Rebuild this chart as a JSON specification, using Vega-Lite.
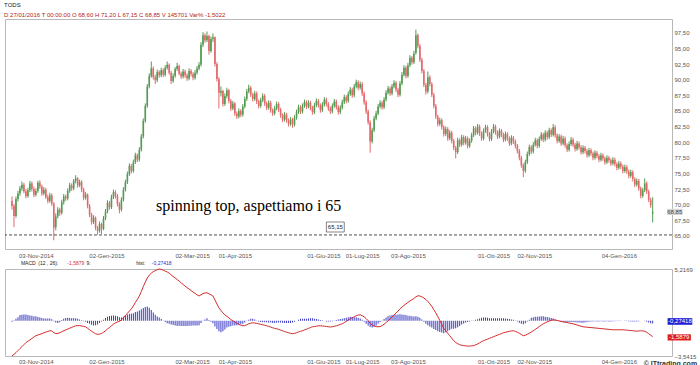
{
"$schema": "https://vega.github.io/schema/vega-lite/v6.json",
"background": "white",
"padding": {"left": 4, "top": 1, "right": 0, "bottom": 0},
"title": {"text": "TODS", "subtitle": "D 27/01/2016  T 00:00:00  O 68,60  H 71,20  L 67,15  C 68,85  V 145701  Var% -1,5022", "anchor": "start", "font": "Liberation Sans", "fontSize": 6, "fontWeight": "normal", "color": "#222", "subtitleFont": "Liberation Sans", "subtitleFontSize": 6, "subtitleColor": "#b22222", "subtitlePadding": 4, "offset": 1},
"bounds": "flush",
"spacing": 20,
"config": {"view": {"stroke": "#b8b8b8", "strokeWidth": 1}, "axis": {"labelFont": "Liberation Sans", "labelFontSize": 6, "labelColor": "#555", "ticks": false, "tickSize": 0, "domain": false, "grid": false, "title": null, "labelOverlap": false, "tickCount": 30}},
"datasets": {"px": [
{"i":0,"o":70.6,"h":71.3,"l":69.2,"c":69.8,"m":-3.54,"g":-0.1},
{"i":1,"o":69.8,"h":70.1,"l":66.4,"c":68.2,"m":-3.38,"g":0.05},
{"i":2,"o":68.2,"h":71.3,"l":67.9,"c":70.9,"m":-3.2,"g":0.2},
{"i":3,"o":70.9,"h":72.2,"l":70.5,"c":71.8,"m":-3.0,"g":0.35},
{"i":4,"o":71.8,"h":73.0,"l":71.4,"c":72.6,"m":-2.8,"g":0.59},
{"i":5,"o":72.6,"h":73.7,"l":72.2,"c":73.2,"m":-2.6,"g":0.62},
{"i":6,"o":73.2,"h":73.5,"l":71.8,"c":72.1,"m":-2.4,"g":0.64},
{"i":7,"o":72.1,"h":72.5,"l":71.0,"c":71.4,"m":-2.2,"g":0.64},
{"i":8,"o":71.4,"h":72.7,"l":71.1,"c":72.3,"m":-2.06,"g":0.59},
{"i":9,"o":72.3,"h":73.8,"l":72.0,"c":73.4,"m":-1.92,"g":0.54},
{"i":10,"o":73.4,"h":73.7,"l":72.1,"c":72.5,"m":-1.78,"g":0.5},
{"i":11,"o":72.5,"h":72.9,"l":71.2,"c":71.6,"m":-1.64,"g":0.45},
{"i":12,"o":71.6,"h":72.6,"l":71.3,"c":72.2,"m":-1.5,"g":0.45},
{"i":13,"o":72.2,"h":73.8,"l":71.9,"c":73.5,"m":-1.43,"g":0.39},
{"i":14,"o":73.5,"h":73.9,"l":72.5,"c":72.9,"m":-1.36,"g":0.34},
{"i":15,"o":72.9,"h":73.2,"l":71.4,"c":71.8,"m":-1.29,"g":0.28},
{"i":16,"o":71.8,"h":72.8,"l":71.5,"c":72.4,"m":-1.21,"g":0.23},
{"i":17,"o":72.4,"h":72.7,"l":70.9,"c":71.2,"m":-1.14,"g":0.23},
{"i":18,"o":71.2,"h":71.6,"l":70.2,"c":70.6,"m":-1.07,"g":0.23},
{"i":19,"o":70.6,"h":71.9,"l":70.3,"c":71.5,"m":-1.0,"g":0.23},
{"i":20,"o":71.5,"h":71.8,"l":69.8,"c":70.2,"m":-1.02,"g":0.15},
{"i":21,"o":70.2,"h":70.4,"l":64.3,"c":66.3,"m":-1.2,"g":-0.05},
{"i":22,"o":66.4,"h":68.6,"l":65.9,"c":68.1,"m":-1.28,"g":-0.17},
{"i":23,"o":68.1,"h":69.6,"l":67.8,"c":69.2,"m":-1.27,"g":-0.22},
{"i":24,"o":69.2,"h":69.5,"l":68.2,"c":68.7,"m":-1.2,"g":-0.14},
{"i":25,"o":68.7,"h":70.8,"l":68.4,"c":70.4,"m":-1.1,"g":0.08},
{"i":26,"o":70.4,"h":71.7,"l":70.0,"c":71.3,"m":-1.0,"g":0.22},
{"i":27,"o":71.3,"h":71.6,"l":70.6,"c":71.0,"m":-0.92,"g":0.28},
{"i":28,"o":71.0,"h":72.6,"l":70.7,"c":72.2,"m":-0.83,"g":0.3},
{"i":29,"o":72.2,"h":73.5,"l":71.9,"c":73.1,"m":-0.74,"g":0.29},
{"i":30,"o":73.1,"h":73.4,"l":72.2,"c":72.6,"m":-0.66,"g":0.27},
{"i":31,"o":72.6,"h":74.1,"l":72.3,"c":73.8,"m":-0.58,"g":0.27},
{"i":32,"o":73.8,"h":74.7,"l":73.4,"c":74.2,"m":-0.5,"g":0.26},
{"i":33,"o":74.2,"h":74.4,"l":72.7,"c":73.1,"m":-0.48,"g":0.21},
{"i":34,"o":73.1,"h":74.0,"l":72.8,"c":73.6,"m":-0.48,"g":0.14},
{"i":35,"o":73.6,"h":73.9,"l":72.0,"c":72.4,"m":-0.52,"g":0.05},
{"i":36,"o":72.4,"h":72.7,"l":70.7,"c":71.1,"m":-0.56,"g":-0.05},
{"i":37,"o":71.1,"h":72.0,"l":70.8,"c":71.6,"m":-0.6,"g":-0.1},
{"i":38,"o":71.6,"h":71.8,"l":69.4,"c":69.8,"m":-0.75,"g":-0.22},
{"i":39,"o":69.8,"h":70.1,"l":68.0,"c":68.4,"m":-0.9,"g":-0.3},
{"i":40,"o":68.4,"h":68.7,"l":66.8,"c":67.2,"m":-1.05,"g":-0.39},
{"i":41,"o":67.2,"h":68.3,"l":66.9,"c":67.9,"m":-1.18,"g":-0.46},
{"i":42,"o":67.9,"h":68.1,"l":65.9,"c":66.3,"m":-1.3,"g":-0.44},
{"i":43,"o":66.3,"h":66.6,"l":65.2,"c":65.8,"m":-1.36,"g":-0.37},
{"i":44,"o":65.8,"h":67.3,"l":65.5,"c":66.9,"m":-1.34,"g":-0.23},
{"i":45,"o":66.9,"h":67.1,"l":65.3,"c":66.1,"m":-1.28,"g":-0.08},
{"i":46,"o":66.1,"h":68.2,"l":65.9,"c":67.8,"m":-1.15,"g":0.12},
{"i":47,"o":67.8,"h":69.3,"l":67.5,"c":68.9,"m":-1.0,"g":0.29},
{"i":48,"o":68.9,"h":70.7,"l":68.6,"c":70.3,"m":-0.82,"g":0.42},
{"i":49,"o":70.3,"h":70.6,"l":69.2,"c":69.6,"m":-0.68,"g":0.48},
{"i":50,"o":69.6,"h":71.6,"l":69.3,"c":71.2,"m":-0.5,"g":0.52},
{"i":51,"o":71.2,"h":72.4,"l":70.9,"c":72.0,"m":-0.33,"g":0.54},
{"i":52,"o":72.0,"h":72.3,"l":71.0,"c":71.4,"m":-0.2,"g":0.5},
{"i":53,"o":71.4,"h":71.7,"l":69.7,"c":70.1,"m":-0.12,"g":0.45},
{"i":54,"o":70.1,"h":70.4,"l":68.6,"c":69.2,"m":-0.05,"g":0.36},
{"i":55,"o":69.2,"h":71.2,"l":68.9,"c":70.8,"m":0.1,"g":0.34},
{"i":56,"o":70.8,"h":72.8,"l":70.5,"c":72.4,"m":0.3,"g":0.4},
{"i":57,"o":72.4,"h":74.0,"l":72.1,"c":73.6,"m":0.55,"g":0.54},
{"i":58,"o":73.6,"h":75.3,"l":73.3,"c":74.9,"m":0.75,"g":0.64},
{"i":59,"o":74.9,"h":76.6,"l":74.6,"c":76.2,"m":0.98,"g":0.7},
{"i":60,"o":76.2,"h":76.5,"l":75.0,"c":75.4,"m":1.2,"g":0.72},
{"i":61,"o":75.4,"h":77.2,"l":75.1,"c":76.8,"m":1.5,"g":0.76},
{"i":62,"o":76.8,"h":78.3,"l":76.5,"c":77.9,"m":1.85,"g":0.88},
{"i":63,"o":77.9,"h":78.2,"l":76.8,"c":77.2,"m":2.15,"g":0.94},
{"i":64,"o":77.2,"h":79.2,"l":76.9,"c":78.8,"m":2.5,"g":1.04},
{"i":65,"o":78.8,"h":81.3,"l":78.5,"c":80.9,"m":2.95,"g":1.16},
{"i":66,"o":80.9,"h":83.8,"l":80.6,"c":83.4,"m":3.45,"g":1.28},
{"i":67,"o":83.4,"h":86.2,"l":83.1,"c":85.8,"m":3.9,"g":1.4},
{"i":68,"o":85.8,"h":89.3,"l":85.5,"c":88.9,"m":4.3,"g":1.44},
{"i":69,"o":88.9,"h":91.0,"l":88.6,"c":90.6,"m":4.6,"g":1.32},
{"i":70,"o":90.6,"h":92.9,"l":90.3,"c":91.8,"m":4.8,"g":1.08},
{"i":71,"o":91.8,"h":92.1,"l":90.0,"c":90.4,"m":4.95,"g":0.84},
{"i":72,"o":90.4,"h":90.8,"l":89.3,"c":89.9,"m":5.05,"g":0.6},
{"i":73,"o":89.9,"h":91.6,"l":89.6,"c":91.2,"m":5.15,"g":0.44},
{"i":74,"o":91.2,"h":91.5,"l":90.3,"c":90.7,"m":5.2169,"g":0.34},
{"i":75,"o":90.7,"h":91.9,"l":90.4,"c":91.5,"m":5.18,"g":0.18},
{"i":76,"o":91.5,"h":91.8,"l":90.4,"c":90.8,"m":5.1,"g":0.04},
{"i":77,"o":90.8,"h":92.3,"l":90.5,"c":91.9,"m":5.0,"g":-0.12},
{"i":78,"o":91.9,"h":92.9,"l":91.6,"c":92.4,"m":4.92,"g":-0.24},
{"i":79,"o":92.4,"h":92.6,"l":90.8,"c":91.1,"m":4.8,"g":-0.3},
{"i":80,"o":91.1,"h":91.4,"l":89.3,"c":89.8,"m":4.62,"g":-0.38},
{"i":81,"o":89.8,"h":91.0,"l":89.5,"c":90.6,"m":4.46,"g":-0.43},
{"i":82,"o":90.6,"h":92.0,"l":90.3,"c":91.7,"m":4.32,"g":-0.48},
{"i":83,"o":91.7,"h":92.7,"l":91.4,"c":92.2,"m":4.16,"g":-0.51},
{"i":84,"o":92.2,"h":92.4,"l":90.7,"c":91.0,"m":4.0,"g":-0.5},
{"i":85,"o":91.0,"h":91.3,"l":90.1,"c":90.5,"m":3.82,"g":-0.51},
{"i":86,"o":90.5,"h":91.7,"l":90.2,"c":91.3,"m":3.66,"g":-0.53},
{"i":87,"o":91.3,"h":91.6,"l":90.3,"c":90.7,"m":3.5,"g":-0.53},
{"i":88,"o":90.7,"h":91.0,"l":89.8,"c":90.2,"m":3.34,"g":-0.53},
{"i":89,"o":90.2,"h":91.8,"l":89.9,"c":91.4,"m":3.2,"g":-0.5},
{"i":90,"o":91.4,"h":91.7,"l":90.5,"c":90.9,"m":3.05,"g":-0.49},
{"i":91,"o":90.9,"h":91.2,"l":89.9,"c":90.3,"m":2.9,"g":-0.48},
{"i":92,"o":90.3,"h":91.5,"l":90.0,"c":91.1,"m":2.76,"g":-0.46},
{"i":93,"o":91.1,"h":92.2,"l":90.8,"c":91.8,"m":2.62,"g":-0.46},
{"i":94,"o":91.8,"h":92.8,"l":91.5,"c":92.4,"m":2.5,"g":-0.44},
{"i":95,"o":92.4,"h":96.0,"l":92.1,"c":95.6,"m":2.62,"g":-0.22},
{"i":96,"o":95.6,"h":97.6,"l":95.2,"c":97.1,"m":2.75,"g":-0.01},
{"i":97,"o":97.1,"h":97.4,"l":95.9,"c":96.3,"m":2.8,"g":0.14},
{"i":98,"o":96.3,"h":97.7,"l":96.0,"c":97.0,"m":2.82,"g":0.26},
{"i":99,"o":97.0,"h":97.2,"l":94.0,"c":94.6,"m":2.72,"g":0.08},
{"i":100,"o":94.6,"h":96.9,"l":94.3,"c":96.5,"m":2.62,"g":-0.1},
{"i":101,"o":96.5,"h":97.4,"l":96.0,"c":96.8,"m":2.5,"g":-0.24},
{"i":102,"o":96.8,"h":96.9,"l":92.1,"c":92.5,"m":2.1,"g":-0.58},
{"i":103,"o":92.5,"h":92.8,"l":89.7,"c":90.1,"m":1.7,"g":-0.82},
{"i":104,"o":90.1,"h":90.4,"l":85.4,"c":87.9,"m":1.3,"g":-1.06},
{"i":105,"o":87.9,"h":88.9,"l":87.3,"c":88.2,"m":1.05,"g":-1.16},
{"i":106,"o":88.2,"h":88.4,"l":85.7,"c":86.1,"m":0.8,"g":-1.04},
{"i":107,"o":86.1,"h":87.8,"l":85.8,"c":87.4,"m":0.6,"g":-0.88},
{"i":108,"o":87.4,"h":88.7,"l":87.0,"c":88.3,"m":0.45,"g":-0.68},
{"i":109,"o":88.3,"h":88.5,"l":86.2,"c":86.6,"m":0.3,"g":-0.6},
{"i":110,"o":86.6,"h":86.9,"l":85.0,"c":85.4,"m":0.12,"g":-0.54},
{"i":111,"o":85.4,"h":86.6,"l":85.1,"c":86.2,"m":0.0,"g":-0.48},
{"i":112,"o":86.2,"h":86.4,"l":84.2,"c":84.6,"m":-0.12,"g":-0.46},
{"i":113,"o":84.6,"h":84.9,"l":83.7,"c":84.1,"m":-0.25,"g":-0.44},
{"i":114,"o":84.1,"h":85.4,"l":83.8,"c":85.0,"m":-0.36,"g":-0.38},
{"i":115,"o":85.0,"h":85.3,"l":84.0,"c":84.4,"m":-0.44,"g":-0.35},
{"i":116,"o":84.4,"h":86.1,"l":84.1,"c":85.7,"m":-0.5,"g":-0.3},
{"i":117,"o":85.7,"h":87.3,"l":85.4,"c":86.9,"m":-0.48,"g":-0.18},
{"i":118,"o":86.9,"h":88.5,"l":86.6,"c":88.1,"m":-0.4,"g":-0.03},
{"i":119,"o":88.1,"h":89.2,"l":87.8,"c":88.7,"m":-0.3,"g":0.11},
{"i":120,"o":88.7,"h":89.0,"l":87.2,"c":87.6,"m":-0.24,"g":0.21},
{"i":121,"o":87.6,"h":87.9,"l":86.5,"c":86.9,"m":-0.2,"g":0.22},
{"i":122,"o":86.9,"h":88.2,"l":86.6,"c":87.8,"m":-0.22,"g":0.14},
{"i":123,"o":87.8,"h":88.1,"l":86.1,"c":86.5,"m":-0.26,"g":0.03},
{"i":124,"o":86.5,"h":86.8,"l":85.4,"c":85.8,"m":-0.31,"g":-0.06},
{"i":125,"o":85.8,"h":87.1,"l":85.5,"c":86.7,"m":-0.35,"g":-0.12},
{"i":126,"o":86.7,"h":87.8,"l":86.4,"c":87.4,"m":-0.4,"g":-0.14},
{"i":127,"o":87.4,"h":87.7,"l":85.8,"c":86.2,"m":-0.44,"g":-0.14},
{"i":128,"o":86.2,"h":86.5,"l":85.1,"c":85.5,"m":-0.5,"g":-0.15},
{"i":129,"o":85.5,"h":86.7,"l":85.2,"c":86.3,"m":-0.56,"g":-0.17},
{"i":130,"o":86.3,"h":86.6,"l":84.7,"c":85.1,"m":-0.63,"g":-0.18},
{"i":131,"o":85.1,"h":85.4,"l":84.2,"c":84.6,"m":-0.7,"g":-0.21},
{"i":132,"o":84.6,"h":85.8,"l":84.3,"c":85.4,"m":-0.76,"g":-0.21},
{"i":133,"o":85.4,"h":86.5,"l":85.1,"c":86.1,"m":-0.8,"g":-0.19},
{"i":134,"o":86.1,"h":86.4,"l":84.8,"c":85.2,"m":-0.86,"g":-0.18},
{"i":135,"o":85.2,"h":85.5,"l":83.9,"c":84.3,"m":-0.93,"g":-0.18},
{"i":136,"o":84.3,"h":84.6,"l":83.2,"c":83.6,"m":-1.0,"g":-0.19},
{"i":137,"o":83.6,"h":84.8,"l":83.3,"c":84.4,"m":-1.08,"g":-0.22},
{"i":138,"o":84.4,"h":84.7,"l":83.1,"c":83.5,"m":-1.14,"g":-0.22},
{"i":139,"o":83.5,"h":83.8,"l":82.5,"c":82.9,"m":-1.2,"g":-0.22},
{"i":140,"o":82.9,"h":84.0,"l":82.6,"c":83.6,"m":-1.26,"g":-0.21},
{"i":141,"o":83.6,"h":83.9,"l":82.3,"c":82.8,"m":-1.3,"g":-0.18},
{"i":142,"o":82.8,"h":84.3,"l":82.5,"c":83.9,"m":-1.27,"g":-0.1},
{"i":143,"o":83.9,"h":85.2,"l":83.6,"c":84.8,"m":-1.2,"g":0.0},
{"i":144,"o":84.8,"h":86.0,"l":84.5,"c":85.6,"m":-1.12,"g":0.11},
{"i":145,"o":85.6,"h":85.9,"l":84.5,"c":84.9,"m":-1.05,"g":0.2},
{"i":146,"o":84.9,"h":86.2,"l":84.6,"c":85.8,"m":-1.0,"g":0.22},
{"i":147,"o":85.8,"h":86.8,"l":85.5,"c":86.4,"m":-0.92,"g":0.22},
{"i":148,"o":86.4,"h":86.7,"l":85.3,"c":85.7,"m":-0.85,"g":0.22},
{"i":149,"o":85.7,"h":86.7,"l":85.4,"c":86.3,"m":-0.76,"g":0.23},
{"i":150,"o":86.3,"h":86.6,"l":85.1,"c":85.5,"m":-0.68,"g":0.26},
{"i":151,"o":85.5,"h":85.8,"l":84.4,"c":84.8,"m":-0.6,"g":0.26},
{"i":152,"o":84.8,"h":86.3,"l":84.5,"c":85.9,"m":-0.58,"g":0.22},
{"i":153,"o":85.9,"h":87.0,"l":85.6,"c":86.6,"m":-0.54,"g":0.18},
{"i":154,"o":86.6,"h":86.9,"l":85.5,"c":85.9,"m":-0.5,"g":0.14},
{"i":155,"o":85.9,"h":86.2,"l":84.7,"c":85.1,"m":-0.5,"g":0.08},
{"i":156,"o":85.1,"h":86.4,"l":84.8,"c":86.0,"m":-0.52,"g":0.05},
{"i":157,"o":86.0,"h":87.2,"l":85.7,"c":86.8,"m":-0.54,"g":0.0},
{"i":158,"o":86.8,"h":87.1,"l":85.7,"c":86.1,"m":-0.57,"g":-0.06},
{"i":159,"o":86.1,"h":86.4,"l":85.0,"c":85.4,"m":-0.6,"g":-0.08},
{"i":160,"o":85.4,"h":85.7,"l":84.5,"c":84.9,"m":-0.62,"g":-0.08},
{"i":161,"o":84.9,"h":86.2,"l":84.6,"c":85.8,"m":-0.6,"g":-0.05},
{"i":162,"o":85.8,"h":86.9,"l":85.5,"c":86.5,"m":-0.55,"g":0.02},
{"i":163,"o":86.5,"h":86.8,"l":85.2,"c":85.6,"m":-0.5,"g":0.08},
{"i":164,"o":85.6,"h":85.9,"l":84.4,"c":84.8,"m":-0.44,"g":0.14},
{"i":165,"o":84.8,"h":85.9,"l":84.5,"c":85.5,"m":-0.36,"g":0.19},
{"i":166,"o":85.5,"h":86.8,"l":85.2,"c":86.4,"m":-0.3,"g":0.2},
{"i":167,"o":86.4,"h":87.6,"l":86.1,"c":87.2,"m":-0.18,"g":0.26},
{"i":168,"o":87.2,"h":87.5,"l":86.2,"c":86.6,"m":-0.06,"g":0.3},
{"i":169,"o":86.6,"h":88.1,"l":86.3,"c":87.7,"m":0.08,"g":0.35},
{"i":170,"o":87.7,"h":88.8,"l":87.4,"c":88.4,"m":0.2,"g":0.4},
{"i":171,"o":88.4,"h":88.7,"l":87.1,"c":87.5,"m":0.3,"g":0.38},
{"i":172,"o":87.5,"h":89.3,"l":87.2,"c":88.9,"m":0.4,"g":0.37},
{"i":173,"o":88.9,"h":90.0,"l":88.6,"c":89.6,"m":0.52,"g":0.35},
{"i":174,"o":89.6,"h":89.9,"l":88.3,"c":88.7,"m":0.58,"g":0.3},
{"i":175,"o":88.7,"h":89.7,"l":88.4,"c":89.3,"m":0.6,"g":0.24},
{"i":176,"o":89.3,"h":89.6,"l":87.4,"c":87.8,"m":0.52,"g":0.1},
{"i":177,"o":87.8,"h":88.1,"l":86.0,"c":86.4,"m":0.4,"g":-0.1},
{"i":178,"o":86.4,"h":86.7,"l":84.5,"c":84.9,"m":0.22,"g":-0.29},
{"i":179,"o":84.9,"h":85.2,"l":82.8,"c":83.2,"m":0.02,"g":-0.46},
{"i":180,"o":83.2,"h":83.5,"l":78.3,"c":80.1,"m":-0.25,"g":-0.62},
{"i":181,"o":80.1,"h":82.3,"l":79.8,"c":81.9,"m":-0.42,"g":-0.66},
{"i":182,"o":81.9,"h":84.2,"l":81.6,"c":83.8,"m":-0.52,"g":-0.59},
{"i":183,"o":83.8,"h":85.0,"l":83.5,"c":84.6,"m":-0.58,"g":-0.48},
{"i":184,"o":84.6,"h":86.1,"l":84.3,"c":85.7,"m":-0.6,"g":-0.28},
{"i":185,"o":85.7,"h":86.7,"l":85.4,"c":86.3,"m":-0.58,"g":-0.13},
{"i":186,"o":86.3,"h":86.6,"l":85.2,"c":85.6,"m":-0.48,"g":0.03},
{"i":187,"o":85.6,"h":87.2,"l":85.3,"c":86.8,"m":-0.34,"g":0.19},
{"i":188,"o":86.8,"h":88.3,"l":86.5,"c":87.9,"m":-0.18,"g":0.34},
{"i":189,"o":87.9,"h":89.0,"l":87.6,"c":88.6,"m":0.0,"g":0.46},
{"i":190,"o":88.6,"h":88.9,"l":87.4,"c":87.8,"m":0.18,"g":0.53},
{"i":191,"o":87.8,"h":89.3,"l":87.5,"c":88.9,"m":0.38,"g":0.58},
{"i":192,"o":88.9,"h":89.9,"l":88.6,"c":89.5,"m":0.58,"g":0.61},
{"i":193,"o":89.5,"h":89.8,"l":88.0,"c":88.4,"m":0.78,"g":0.62},
{"i":194,"o":88.4,"h":88.7,"l":87.2,"c":87.6,"m":0.98,"g":0.64},
{"i":195,"o":87.6,"h":89.8,"l":87.3,"c":89.4,"m":1.2,"g":0.66},
{"i":196,"o":89.4,"h":91.2,"l":89.1,"c":90.8,"m":1.38,"g":0.64},
{"i":197,"o":90.8,"h":92.3,"l":90.5,"c":91.9,"m":1.55,"g":0.62},
{"i":198,"o":91.9,"h":92.2,"l":90.2,"c":90.6,"m":1.7,"g":0.58},
{"i":199,"o":90.6,"h":92.7,"l":90.3,"c":92.3,"m":1.85,"g":0.52},
{"i":200,"o":92.3,"h":93.9,"l":92.0,"c":93.5,"m":2.0,"g":0.5},
{"i":201,"o":93.5,"h":93.8,"l":92.4,"c":92.8,"m":2.12,"g":0.46},
{"i":202,"o":92.8,"h":94.6,"l":92.5,"c":94.2,"m":2.25,"g":0.44},
{"i":203,"o":94.3,"h":98.0,"l":94.0,"c":97.1,"m":2.42,"g":0.46},
{"i":204,"o":97.1,"h":97.4,"l":95.0,"c":95.4,"m":2.52,"g":0.42},
{"i":205,"o":95.4,"h":95.7,"l":92.8,"c":93.2,"m":2.5,"g":0.3},
{"i":206,"o":93.2,"h":93.5,"l":91.0,"c":91.4,"m":2.42,"g":0.14},
{"i":207,"o":91.4,"h":91.7,"l":88.8,"c":89.2,"m":2.3,"g":-0.1},
{"i":208,"o":89.2,"h":89.5,"l":87.6,"c":88.1,"m":2.15,"g":-0.3},
{"i":209,"o":88.1,"h":91.3,"l":87.8,"c":90.4,"m":1.95,"g":-0.44},
{"i":210,"o":90.4,"h":90.7,"l":88.9,"c":89.3,"m":1.72,"g":-0.56},
{"i":211,"o":89.3,"h":89.6,"l":87.2,"c":87.6,"m":1.45,"g":-0.68},
{"i":212,"o":87.6,"h":87.9,"l":85.4,"c":85.8,"m":1.12,"g":-0.82},
{"i":213,"o":85.8,"h":86.1,"l":83.7,"c":84.1,"m":0.8,"g":-0.92},
{"i":214,"o":84.1,"h":84.4,"l":82.5,"c":82.9,"m":0.42,"g":-1.04},
{"i":215,"o":82.9,"h":83.9,"l":82.6,"c":83.5,"m":0.05,"g":-1.12},
{"i":216,"o":83.5,"h":83.8,"l":82.0,"c":82.4,"m":-0.35,"g":-1.18},
{"i":217,"o":82.4,"h":82.7,"l":80.9,"c":81.3,"m":-0.75,"g":-1.24},
{"i":218,"o":81.3,"h":82.5,"l":81.0,"c":82.1,"m":-1.0,"g":-1.14},
{"i":219,"o":82.1,"h":82.4,"l":80.2,"c":80.6,"m":-1.25,"g":-1.04},
{"i":220,"o":80.6,"h":81.9,"l":80.3,"c":81.5,"m":-1.5,"g":-0.92},
{"i":221,"o":81.5,"h":81.8,"l":79.8,"c":80.2,"m":-1.75,"g":-0.8},
{"i":222,"o":80.2,"h":80.5,"l":78.7,"c":79.1,"m":-2.0,"g":-0.8},
{"i":223,"o":79.1,"h":79.4,"l":77.4,"c":78.4,"m":-2.18,"g":-0.74},
{"i":224,"o":78.4,"h":80.7,"l":78.1,"c":80.3,"m":-2.3,"g":-0.64},
{"i":225,"o":80.3,"h":80.6,"l":79.2,"c":79.6,"m":-2.4,"g":-0.52},
{"i":226,"o":79.6,"h":81.2,"l":79.3,"c":80.8,"m":-2.46,"g":-0.37},
{"i":227,"o":80.8,"h":81.1,"l":79.5,"c":79.9,"m":-2.5,"g":-0.26},
{"i":228,"o":79.9,"h":81.0,"l":79.6,"c":80.6,"m":-2.52,"g":-0.18},
{"i":229,"o":80.6,"h":80.9,"l":79.0,"c":79.4,"m":-2.54,"g":-0.11},
{"i":230,"o":79.4,"h":80.6,"l":79.1,"c":80.2,"m":-2.54,"g":-0.06},
{"i":231,"o":80.2,"h":81.5,"l":79.9,"c":81.1,"m":-2.52,"g":-0.02},
{"i":232,"o":81.1,"h":82.6,"l":80.8,"c":82.2,"m":-2.5,"g":0.02},
{"i":233,"o":82.2,"h":82.5,"l":81.1,"c":81.5,"m":-2.42,"g":0.1},
{"i":234,"o":81.5,"h":82.9,"l":81.2,"c":82.5,"m":-2.33,"g":0.17},
{"i":235,"o":82.5,"h":82.8,"l":81.0,"c":81.4,"m":-2.22,"g":0.24},
{"i":236,"o":81.4,"h":81.7,"l":80.2,"c":80.6,"m":-2.1,"g":0.32},
{"i":237,"o":80.6,"h":82.2,"l":80.3,"c":81.8,"m":-2.0,"g":0.34},
{"i":238,"o":81.8,"h":82.8,"l":81.5,"c":82.4,"m":-1.92,"g":0.33},
{"i":239,"o":82.4,"h":82.7,"l":80.9,"c":81.3,"m":-1.84,"g":0.3},
{"i":240,"o":81.3,"h":81.6,"l":80.1,"c":80.5,"m":-1.76,"g":0.27},
{"i":241,"o":80.5,"h":82.1,"l":80.2,"c":81.7,"m":-1.68,"g":0.26},
{"i":242,"o":81.7,"h":82.9,"l":81.4,"c":82.5,"m":-1.6,"g":0.26},
{"i":243,"o":82.5,"h":82.8,"l":81.2,"c":81.6,"m":-1.52,"g":0.26},
{"i":244,"o":81.6,"h":81.9,"l":80.5,"c":80.9,"m":-1.44,"g":0.26},
{"i":245,"o":80.9,"h":82.2,"l":80.6,"c":81.8,"m":-1.36,"g":0.26},
{"i":246,"o":81.8,"h":82.1,"l":80.8,"c":81.2,"m":-1.28,"g":0.26},
{"i":247,"o":81.2,"h":81.5,"l":80.0,"c":80.4,"m":-1.2,"g":0.26},
{"i":248,"o":80.4,"h":81.7,"l":80.1,"c":81.3,"m":-1.15,"g":0.23},
{"i":249,"o":81.3,"h":81.6,"l":80.2,"c":80.6,"m":-1.1,"g":0.21},
{"i":250,"o":80.6,"h":80.9,"l":79.4,"c":79.8,"m":-1.05,"g":0.18},
{"i":251,"o":79.8,"h":81.1,"l":79.5,"c":80.7,"m":-1.02,"g":0.14},
{"i":252,"o":80.7,"h":81.0,"l":79.7,"c":80.1,"m":-1.0,"g":0.12},
{"i":253,"o":80.1,"h":80.4,"l":79.0,"c":79.4,"m":-1.06,"g":0.03},
{"i":254,"o":79.4,"h":79.7,"l":78.2,"c":78.6,"m":-1.15,"g":-0.08},
{"i":255,"o":78.6,"h":78.9,"l":77.1,"c":77.5,"m":-1.26,"g":-0.19},
{"i":256,"o":77.5,"h":77.8,"l":75.9,"c":76.3,"m":-1.38,"g":-0.3},
{"i":257,"o":76.3,"h":76.6,"l":74.4,"c":75.4,"m":-1.5,"g":-0.35},
{"i":258,"o":75.4,"h":77.2,"l":75.1,"c":76.8,"m":-1.45,"g":-0.24},
{"i":259,"o":76.8,"h":78.5,"l":76.5,"c":78.1,"m":-1.36,"g":-0.08},
{"i":260,"o":78.1,"h":79.6,"l":77.8,"c":79.2,"m":-1.25,"g":0.1},
{"i":261,"o":79.2,"h":79.5,"l":78.1,"c":78.5,"m":-1.12,"g":0.3},
{"i":262,"o":78.5,"h":80.0,"l":78.2,"c":79.6,"m":-1.0,"g":0.36},
{"i":263,"o":79.6,"h":80.7,"l":79.3,"c":80.3,"m":-0.86,"g":0.4},
{"i":264,"o":80.3,"h":80.6,"l":79.0,"c":79.4,"m":-0.72,"g":0.42},
{"i":265,"o":79.4,"h":80.9,"l":79.1,"c":80.5,"m":-0.58,"g":0.43},
{"i":266,"o":80.5,"h":81.6,"l":80.2,"c":81.2,"m":-0.44,"g":0.45},
{"i":267,"o":81.2,"h":81.5,"l":80.0,"c":80.4,"m":-0.3,"g":0.45},
{"i":268,"o":80.4,"h":81.9,"l":80.1,"c":81.5,"m":-0.2,"g":0.42},
{"i":269,"o":81.5,"h":81.8,"l":80.4,"c":80.8,"m":-0.1,"g":0.38},
{"i":270,"o":80.8,"h":82.3,"l":80.5,"c":81.9,"m":-0.02,"g":0.34},
{"i":271,"o":81.9,"h":82.2,"l":80.8,"c":81.2,"m":0.05,"g":0.28},
{"i":272,"o":81.2,"h":82.9,"l":80.9,"c":82.4,"m":0.1,"g":0.24},
{"i":273,"o":82.4,"h":82.7,"l":80.7,"c":81.1,"m":0.08,"g":0.14},
{"i":274,"o":81.1,"h":81.4,"l":79.8,"c":80.2,"m":0.04,"g":0.05},
{"i":275,"o":80.2,"h":81.3,"l":79.9,"c":80.9,"m":-0.01,"g":-0.05},
{"i":276,"o":80.9,"h":81.2,"l":79.4,"c":79.8,"m":-0.06,"g":-0.13},
{"i":277,"o":79.8,"h":81.0,"l":79.5,"c":80.6,"m":-0.1,"g":-0.14},
{"i":278,"o":80.6,"h":80.9,"l":79.1,"c":79.5,"m":-0.14,"g":-0.14},
{"i":279,"o":79.5,"h":79.8,"l":78.4,"c":78.8,"m":-0.18,"g":-0.14},
{"i":280,"o":78.8,"h":80.1,"l":78.5,"c":79.7,"m":-0.22,"g":-0.13},
{"i":281,"o":79.7,"h":80.8,"l":79.4,"c":80.4,"m":-0.26,"g":-0.13},
{"i":282,"o":80.4,"h":80.7,"l":79.2,"c":79.6,"m":-0.3,"g":-0.13},
{"i":283,"o":79.6,"h":79.9,"l":78.5,"c":78.9,"m":-0.36,"g":-0.14},
{"i":284,"o":78.9,"h":80.2,"l":78.6,"c":79.8,"m":-0.42,"g":-0.16},
{"i":285,"o":79.8,"h":80.1,"l":78.8,"c":79.2,"m":-0.48,"g":-0.18},
{"i":286,"o":79.2,"h":79.5,"l":78.0,"c":78.4,"m":-0.54,"g":-0.19},
{"i":287,"o":78.4,"h":79.5,"l":78.1,"c":79.1,"m":-0.6,"g":-0.19},
{"i":288,"o":79.1,"h":79.4,"l":78.2,"c":78.6,"m":-0.62,"g":-0.16},
{"i":289,"o":78.6,"h":78.9,"l":77.5,"c":77.9,"m":-0.64,"g":-0.13},
{"i":290,"o":77.9,"h":79.1,"l":77.6,"c":78.7,"m":-0.66,"g":-0.1},
{"i":291,"o":78.7,"h":79.0,"l":77.8,"c":78.2,"m":-0.68,"g":-0.06},
{"i":292,"o":78.2,"h":78.5,"l":77.1,"c":77.5,"m":-0.7,"g":-0.07},
{"i":293,"o":77.5,"h":78.7,"l":77.2,"c":78.3,"m":-0.72,"g":-0.05},
{"i":294,"o":78.3,"h":78.6,"l":77.4,"c":77.8,"m":-0.74,"g":-0.06},
{"i":295,"o":77.8,"h":78.1,"l":76.8,"c":77.2,"m":-0.76,"g":-0.07},
{"i":296,"o":77.2,"h":78.3,"l":76.9,"c":77.9,"m":-0.78,"g":-0.05},
{"i":297,"o":77.9,"h":78.2,"l":77.0,"c":77.4,"m":-0.8,"g":-0.06},
{"i":298,"o":77.4,"h":77.7,"l":76.4,"c":76.8,"m":-0.82,"g":-0.06},
{"i":299,"o":76.8,"h":77.9,"l":76.5,"c":77.5,"m":-0.84,"g":-0.05},
{"i":300,"o":77.5,"h":77.8,"l":76.7,"c":77.1,"m":-0.86,"g":-0.06},
{"i":301,"o":77.1,"h":77.4,"l":76.2,"c":76.6,"m":-0.88,"g":-0.07},
{"i":302,"o":76.6,"h":77.6,"l":76.3,"c":77.2,"m":-0.9,"g":-0.05},
{"i":303,"o":77.2,"h":77.5,"l":76.1,"c":76.5,"m":-0.9,"g":-0.05},
{"i":304,"o":76.5,"h":76.8,"l":75.5,"c":75.9,"m":-0.9,"g":-0.03},
{"i":305,"o":75.9,"h":77.0,"l":75.6,"c":76.6,"m":-0.9,"g":-0.02},
{"i":306,"o":76.6,"h":76.9,"l":75.7,"c":76.1,"m":-0.9,"g":-0.01},
{"i":307,"o":76.1,"h":76.4,"l":75.0,"c":75.4,"m":-0.9,"g":0.0},
{"i":308,"o":75.4,"h":76.4,"l":75.1,"c":76.0,"m":-0.92,"g":-0.02},
{"i":309,"o":76.0,"h":76.3,"l":74.9,"c":75.3,"m":-0.94,"g":-0.03},
{"i":310,"o":75.3,"h":75.6,"l":74.2,"c":74.6,"m":-0.96,"g":-0.05},
{"i":311,"o":74.6,"h":75.6,"l":74.3,"c":75.2,"m":-0.98,"g":-0.06},
{"i":312,"o":75.2,"h":75.5,"l":73.7,"c":74.1,"m":-1.0,"g":-0.06},
{"i":313,"o":74.1,"h":74.4,"l":72.8,"c":73.2,"m":-1.02,"g":-0.07},
{"i":314,"o":73.2,"h":74.2,"l":72.9,"c":73.8,"m":-1.04,"g":-0.07},
{"i":315,"o":73.8,"h":74.1,"l":72.2,"c":72.6,"m":-1.02,"g":-0.04},
{"i":316,"o":72.6,"h":72.9,"l":71.0,"c":71.4,"m":-1.0,"g":0.0},
{"i":317,"o":71.4,"h":72.7,"l":71.1,"c":72.3,"m":-1.02,"g":0.0},
{"i":318,"o":72.3,"h":74.2,"l":72.0,"c":73.4,"m":-1.05,"g":-0.02},
{"i":319,"o":73.4,"h":73.7,"l":71.7,"c":72.1,"m":-1.15,"g":-0.1},
{"i":320,"o":72.1,"h":72.4,"l":70.4,"c":70.8,"m":-1.3,"g":-0.18},
{"i":321,"o":70.8,"h":71.1,"l":69.5,"c":69.9,"m":-1.45,"g":-0.24},
{"i":322,"o":68.6,"h":71.2,"l":67.15,"c":68.85,"m":-1.5879,"g":-0.27418}
]},
"vconcat": [
{
"width": 667, "height": 230,
"layer": [
{"data": {"name": "px"}, "mark": {"type": "rule", "strokeWidth": 1},
 "encoding": {
  "x": {"field": "i", "type": "quantitative", "scale": {"domain": [-1, 329.2], "nice": false, "zero": false},
   "axis": {"values": [12, 47.5, 90.5, 112, 156.5, 176, 199, 242, 262.5, 305], "labelExpr": "['03-Nov-2014','02-Gen-2015','02-Mar-2015','01-Apr-2015','01-Giu-2015','01-Lug-2015','03-Ago-2015','01-Ott-2015','02-Nov-2015','04-Gen-2016'][indexof([12,47.5,90.5,112,156.5,176,199,242,262.5,305], datum.value)]", "labelPadding": 3, "labelFlush": false, "labelOverlap": false, "tickCount": 30}},
  "y": {"field": "l", "type": "quantitative", "scale": {"domain": [62.9, 99.7], "nice": false, "zero": false},
   "axis": {"orient": "right", "values": [65, 67.5, 70, 72.5, 75, 77.5, 80, 82.5, 85, 87.5, 90, 92.5, 95, 97.5], "labelExpr": "replace(format(datum.value, '.2f'), '.', ',')", "labelPadding": 2, "labelOverlap": false, "tickCount": 30}},
  "y2": {"field": "h"},
  "color": {"condition": {"test": "datum.c >= datum.o", "value": "#529b52"}, "value": "#e4686b"}
 }},
{"data": {"name": "px"}, "mark": {"type": "bar", "size": 1.6},
 "encoding": {
  "x": {"field": "i", "type": "quantitative"},
  "y": {"field": "o", "type": "quantitative"},
  "y2": {"field": "c"},
  "color": {"condition": {"test": "datum.c >= datum.o", "value": "#529b52"}, "value": "#e4686b"}
 }},
{"data": {"values": [{}]}, "mark": {"type": "rule", "strokeDash": [3, 2], "color": "#222", "strokeWidth": 0.8},
 "encoding": {"y": {"datum": 65.15}}},
{"data": {"values": [{}]}, "mark": {"type": "rect", "fill": "white", "stroke": "#333", "strokeWidth": 0.6},
 "encoding": {"x": {"datum": 158}, "x2": {"datum": 167}, "y": {"datum": 65.62}, "y2": {"datum": 67.22}}},
{"data": {"values": [{}]}, "mark": {"type": "text", "font": "Liberation Sans", "fontSize": 6, "color": "#222"},
 "encoding": {"x": {"datum": 162.5}, "y": {"datum": 66.42}, "text": {"value": "65,15"}}},
{"data": {"values": [{}]}, "mark": {"type": "text", "font": "Liberation Serif", "fontSize": 16, "color": "#000", "align": "left", "baseline": "alphabetic"},
 "encoding": {"x": {"datum": 72.4}, "y": {"datum": 68.98}, "text": {"value": "spinning top, aspettiamo i 65"}}},
{"data": {"values": [{}]}, "mark": {"type": "rect", "fill": "#d8d8d8"},
 "encoding": {"x": {"datum": 329.2}, "x2": {"datum": 337}, "y": {"datum": 68.34}, "y2": {"datum": 69.34}}},
{"data": {"values": [{}]}, "mark": {"type": "text", "font": "Liberation Sans", "fontSize": 6, "color": "#444"},
 "encoding": {"x": {"datum": 333.1}, "y": {"datum": 68.84}, "text": {"value": "68,85"}}}
]
},
{
"width": 667, "height": 87,
"layer": [
{"data": {"name": "px"}, "mark": {"type": "bar", "size": 1, "color": "#3b3bc6"},
 "encoding": {
  "x": {"field": "i", "type": "quantitative", "scale": {"domain": [-1, 329.2], "nice": false, "zero": false},
   "axis": {"values": [12, 47.5, 90.5, 112, 156.5, 176, 199, 242, 262.5, 305], "labelExpr": "['03-Nov-2014','02-Gen-2015','02-Mar-2015','01-Apr-2015','01-Giu-2015','01-Lug-2015','03-Ago-2015','01-Ott-2015','02-Nov-2015','04-Gen-2016'][indexof([12,47.5,90.5,112,156.5,176,199,242,262.5,305], datum.value)]", "labelPadding": 2, "labelFlush": false, "labelOverlap": false, "tickCount": 30}},
  "y": {"field": "g", "type": "quantitative", "scale": {"domain": [-3.5415, 5.2169], "nice": false, "zero": false},
   "axis": {"orient": "right", "values": [-3.5415, 5.2169], "labelExpr": "replace(format(datum.value, '.4f'), '.', ',')", "labelPadding": 2, "labelOverlap": false, "tickCount": 30}}
 }},
{"data": {"name": "px"}, "mark": {"type": "line", "color": "#d42a2a", "strokeWidth": 1},
 "encoding": {"x": {"field": "i", "type": "quantitative"}, "y": {"field": "m", "type": "quantitative"}}},
{"data": {"values": [{}]}, "mark": {"type": "text", "font": "Liberation Sans", "fontSize": 5, "color": "#222", "align": "left"},
 "encoding": {"x": {"datum": 4.5}, "y": {"datum": 5.85}, "text": {"value": "MACD"}}},
{"data": {"values": [{}]}, "mark": {"type": "text", "font": "Liberation Sans", "fontSize": 5, "color": "#222", "align": "left"},
 "encoding": {"x": {"datum": 13.2}, "y": {"datum": 5.85}, "text": {"value": "(12 , 26):"}}},
{"data": {"values": [{}]}, "mark": {"type": "text", "font": "Liberation Sans", "fontSize": 5, "color": "#d42a2a", "align": "left"},
 "encoding": {"x": {"datum": 27.8}, "y": {"datum": 5.85}, "text": {"value": "-1,5879"}}},
{"data": {"values": [{}]}, "mark": {"type": "text", "font": "Liberation Sans", "fontSize": 5, "color": "#222", "align": "left"},
 "encoding": {"x": {"datum": 37.5}, "y": {"datum": 5.85}, "text": {"value": "9:"}}},
{"data": {"values": [{}]}, "mark": {"type": "text", "font": "Liberation Sans", "fontSize": 5, "color": "#222", "align": "left"},
 "encoding": {"x": {"datum": 62.4}, "y": {"datum": 5.85}, "text": {"value": "hist:"}}},
{"data": {"values": [{}]}, "mark": {"type": "text", "font": "Liberation Sans", "fontSize": 5, "color": "#2a2ac8", "align": "left"},
 "encoding": {"x": {"datum": 70.3}, "y": {"datum": 5.85}, "text": {"value": "-0,27418"}}},
{"data": {"values": [{}]}, "mark": {"type": "rect", "fill": "#1f1fd6"},
 "encoding": {"x": {"datum": 329.5}, "x2": {"datum": 341.9}, "y": {"datum": -0.4}, "y2": {"datum": 0.27}}},
{"data": {"values": [{}]}, "mark": {"type": "text", "font": "Liberation Sans", "fontSize": 6, "color": "white"},
 "encoding": {"x": {"datum": 335.7}, "y": {"datum": -0.065}, "text": {"value": "-0,27418"}}},
{"data": {"values": [{}]}, "mark": {"type": "rect", "fill": "#e01b1b"},
 "encoding": {"x": {"datum": 329.5}, "x2": {"datum": 341.2}, "y": {"datum": -1.98}, "y2": {"datum": -1.36}}},
{"data": {"values": [{}]}, "mark": {"type": "text", "font": "Liberation Sans", "fontSize": 6, "color": "white"},
 "encoding": {"x": {"datum": 335.3}, "y": {"datum": -1.67}, "text": {"value": "-1,5879"}}},
{"data": {"values": [{}]}, "mark": {"type": "text", "font": "Liberation Sans", "fontSize": 7, "fontWeight": "bold", "color": "#333", "align": "left"},
 "encoding": {"x": {"datum": 317.5}, "y": {"datum": -4.3}, "text": {"value": "© ITtrading.com"}}}
]
}
]
}
